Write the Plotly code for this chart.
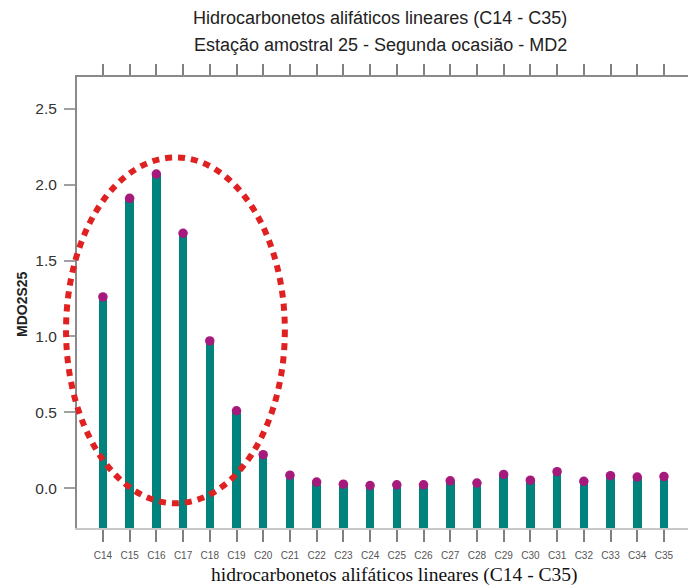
import plotly.graph_objects as go

categories = ["C14", "C15", "C16", "C17", "C18", "C19", "C20", "C21", "C22", "C23", "C24",
              "C25", "C26", "C27", "C28", "C29", "C30", "C31", "C32", "C33", "C34", "C35"]
values = [1.26, 1.91, 2.07, 1.68, 0.97, 0.51, 0.22, 0.085, 0.04, 0.026, 0.017,
          0.022, 0.022, 0.048, 0.033, 0.09, 0.052, 0.108, 0.045, 0.082, 0.073, 0.076]
y_ticks = [0.0, 0.5, 1.0, 1.5, 2.0, 2.5]

Y_MIN, Y_MAX = -0.263, 2.71
X_MIN, X_MAX = -0.97, 21.9
# highlighted region (ellipse) in data coordinates
ELL_X0, ELL_X1, ELL_Y0, ELL_Y1 = -1.38, 6.81, -0.10, 2.18

W, H = 688, 587
ML, MR, MT, MB = 77, 0, 77, 59

idx = list(range(len(categories)))

fig = go.Figure()
fig.add_trace(go.Bar(
    x=idx, y=[v - Y_MIN + 0.03 for v in values], base=Y_MIN - 0.03,
    width=0.32, marker=dict(color="#00837D", line=dict(width=0)),
    hoverinfo="skip", showlegend=False,
))
fig.add_trace(go.Scatter(
    x=idx, y=values, mode="markers",
    marker=dict(size=9.5, color="#A61A7E"), showlegend=False,
))
# top axis ticks (no labels)
fig.add_trace(go.Scatter(x=idx, y=values, xaxis="x2", mode="markers",
                         marker=dict(opacity=0), showlegend=False, hoverinfo="skip"))


def px(xv):
    return (xv - X_MIN) / (X_MAX - X_MIN)


def py(yv):
    return (yv - Y_MIN) / (Y_MAX - Y_MIN)


# ellipse drawn in paper coords (so it is not clipped by the plot area)
fig.add_shape(type="circle", xref="paper", yref="paper",
              x0=px(ELL_X0), x1=px(ELL_X1), y0=py(ELL_Y0), y1=py(ELL_Y1),
              line=dict(color="#E02121", width=6, dash="7px,6px"), layer="above")

plot_h = H - MT - MB
plot_w = W - ML - MR


def pyp(pix):
    return (H - MB - pix) / plot_h


def pxp(pix):
    return (pix - ML) / plot_w


fig.update_layout(
    width=W, height=H,
    margin=dict(l=ML, r=MR, t=MT, b=MB),
    paper_bgcolor="white", plot_bgcolor="white",
    font=dict(family="Liberation Sans, Arial, sans-serif", color="#333333"),
    bargap=0,
    xaxis=dict(
        range=[X_MIN, X_MAX], tickmode="array", tickvals=idx, ticktext=categories,
        showgrid=False, zeroline=False, showline=True, linecolor="#C8C8C8", linewidth=2,
        ticks="outside", ticklen=12, tickcolor="#808080", tickwidth=1.5,
        ticklabelstandoff=5,
        tickfont=dict(size=10, color="#555555"),
    ),
    xaxis2=dict(
        range=[X_MIN, X_MAX], overlaying="x", side="top", tickmode="array",
        tickvals=idx, showticklabels=False, showgrid=False, zeroline=False,
        showline=True, linecolor="#8A8A8A", linewidth=2,
        ticks="outside", ticklen=11, tickcolor="#808080", tickwidth=1.5,
    ),
    yaxis=dict(
        range=[Y_MIN, Y_MAX], tickmode="array", tickvals=y_ticks,
        ticktext=[f"{t:.1f}" for t in y_ticks],
        showgrid=False, zeroline=False, showline=True, linecolor="#8A8A8A", linewidth=2,
        ticks="outside", ticklen=11, tickcolor="#A0A0A0", tickwidth=1.5,
        ticklabelstandoff=4,
        tickfont=dict(size=15.5, color="#333333"),
    ),
    annotations=[
        dict(text="Hidrocarbonetos alifáticos lineares (C14 - C35)", x=pxp(380), xref="paper",
             y=pyp(18), yref="paper", xanchor="center", yanchor="middle", showarrow=False,
             font=dict(size=18, color="#222222")),
        dict(text="Estação amostral 25 - Segunda ocasião - MD2", x=pxp(380), xref="paper",
             y=pyp(45), yref="paper", xanchor="center", yanchor="middle", showarrow=False,
             font=dict(size=18, color="#222222")),
        dict(text="<b>MDO2S25</b>", textangle=-90, x=pxp(22), xref="paper", y=pyp(304),
             yref="paper", xanchor="center", yanchor="middle",
             showarrow=False, font=dict(size=14, color="#222222")),
        dict(text="hidrocarbonetos alifáticos lineares (C14 - C35)", x=pxp(394), xref="paper",
             y=pyp(575), yref="paper", xanchor="center", yanchor="middle", showarrow=False,
             font=dict(size=19.5, color="#111111", family="Liberation Serif, Times New Roman, serif")),
    ],
)

fig.write_html("out.html")
